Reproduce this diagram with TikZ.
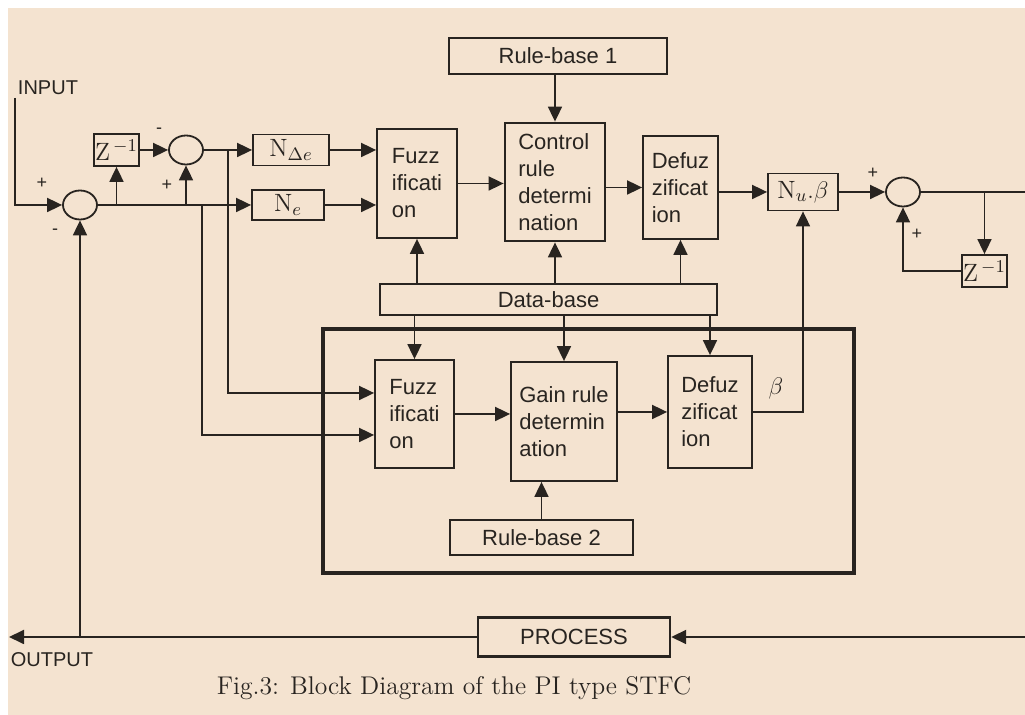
\documentclass[tikz,border=0pt]{standalone}
\usepackage{amsmath,amssymb}
\usepackage{fontspec}
\setsansfont{Liberation Sans}
\usepackage{xcolor}
\usepackage{tikz}
\usetikzlibrary{arrows.meta,shapes.geometric,calc}
\definecolor{paperbg}{RGB}{244,227,208}
\definecolor{inkdark}{RGB}{40,36,32}

\begin{document}
\begin{tikzpicture}[x=0.5pt,y=-0.5pt,>={Triangle[length=7.5pt,width=7pt]},
    line width=0.9pt,draw=inkdark,
    blk/.style={draw=inkdark,line width=0.9pt,inner sep=0pt,align=left,
      font=\sffamily\fontsize{11}{13.5}\selectfont,text=inkdark},
    gainblk/.style={draw=inkdark,line width=0.9pt,inner sep=0pt,
      font=\fontsize{12.5}{14}\selectfont,text=inkdark},
    sumjn/.style={ellipse,draw=inkdark,line width=0.9pt,inner sep=0pt,
      minimum width=17pt,minimum height=14.5pt},
    sgn/.style={font=\sffamily\small,text=inkdark,inner sep=0pt},
    lbl/.style={font=\sffamily\fontsize{10}{12}\selectfont,text=inkdark,inner sep=0pt}]
  % page: white strip on top and left, paper colour elsewhere
  \useasboundingbox (0,0) rectangle (1025,715);
  \fill[white] (0,0) rectangle (1025,715);
  \fill[paperbg] (8,8) rectangle (1025,715);
  % summing junctions
  \node[sumjn] (s1) at (80,205) {};
  \node[sumjn] (s2) at (186,150) {};
  \node[sumjn] (s3) at (903,192) {};
  % delay and normalising gains
  \node[gainblk,minimum width=22.5pt,minimum height=16pt] (zA) at (116.5,150) {$\mathrm{Z}^{\,-1}$};
  \node[gainblk,minimum width=22.5pt,minimum height=16pt] (zB) at (984.5,271) {$\mathrm{Z}^{\,-1}$};
  \node[gainblk,minimum width=38pt,minimum height=15.5pt] (nde) at (291,150) {$\mathrm{N}_{\Delta e}$};
  \node[gainblk,minimum width=36pt,minimum height=15pt] (ne) at (288,205) {$\mathrm{N}_{e}$};
  \node[gainblk,minimum width=35pt,minimum height=18.5pt] (nub) at (803,192) {$\mathrm{N}_{u}.\beta$};
  % main fuzzy controller
  \node[blk,minimum width=109pt,minimum height=18pt] (rb1) at (558,56) {Rule-base 1};
  \node[blk,minimum width=40pt,minimum height=54.5pt] (fuzzA) at (417,183.5) {Fuzz\\ificati\\on};
  \node[blk,line width=1.4pt,minimum width=50pt,minimum height=59pt] (ctrl) at (555,182) {Control\\rule\\determi\\nation};
  \node[blk,minimum width=37.5pt,minimum height=51.5pt] (defA) at (680.5,187.5) {Defuz\\zificat\\ion};
  \node[blk,minimum width=168.5pt,minimum height=15.5pt] (dbase) at (548.5,299.5) {Data-base};
  % gain tuning mechanism
  \draw[line width=2pt] (323,329) rectangle (854,573);
  \node[blk,minimum width=39.5pt,minimum height=54pt] (fuzzB) at (414.5,414) {Fuzz\\ificati\\on};
  \node[blk,minimum width=53pt,minimum height=59.5pt] (gain) at (564,421.5) {Gain rule\\determin\\ation};
  \node[blk,minimum width=42pt,minimum height=56pt] (defB) at (710,412) {Defuz\\zificat\\ion};
  \node[blk,minimum width=91.5pt,minimum height=17.5pt] (rb2) at (541.5,537.5) {Rule-base 2};
  \node[font=\fontsize{13}{15}\selectfont,text=inkdark,inner sep=0pt] (betaLbl) at (776,389) {$\beta$};
  % plant
  \node[blk,line width=1.2pt,align=center,minimum width=96pt,minimum height=19.5pt] (proc) at (574,637) {PROCESS};
  % labels and signs
  \node[lbl] (inLbl) at (48,88) {INPUT};
  \node[lbl] (outLbl) at (52,660) {OUTPUT};
  \node[sgn] (p1) at (42,183) {+};
  \node[sgn] (m1) at (55,232) {-};
  \node[sgn] (m2) at (159,131) {-};
  \node[sgn] (p2) at (167,185) {+};
  \node[sgn] (p3) at (873,173) {+};
  \node[sgn] (p4) at (917,234) {+};
  \node[font=\fontsize{12.8}{15}\selectfont,text=inkdark] (caption) at (454,688)
        {Fig.3: Block Diagram of the PI type STFC};
  % free ends at the page border
  \coordinate (inTop) at (15,98);
  \coordinate (rEdge) at (1025,192);
  \coordinate (rBot) at (1025,637);
  \coordinate (outEnd) at (9,637);
  \coordinate (jE) at (202,205);
  \coordinate (jDE) at (228,150);
  % error and change of error
  \draw[->] (inTop) |- (s1.west);
  \draw[->] (s1.east) -- (ne.west);
  \draw[->] (zA.south |- s1.east) -- (zA.south);
  \draw[->] (zA.east) -- (s2.west);
  \draw[->] (s2.south |- s1.east) -- (s2.south);
  \draw[->] (s2.east) -- (nde.west);
  \draw[->] (nde.east) -- (nde.east -| fuzzA.west);
  \draw[->] (ne.east) -- (ne.east -| fuzzA.west);
  \draw[->] (jDE) |- ($(fuzzB.west)+(0,-21)$);
  \draw[->] (jE) |- ($(fuzzB.west)+(0,21)$);
  % main controller chain
  \draw[->] (rb1.south -| ctrl.north) -- (ctrl.north);
  \draw[->] (fuzzA.east) -- (fuzzA.east -| ctrl.west);
  \draw[->] (defA.west -| ctrl.east) -- (defA.west);
  \draw[->] (defA.east |- nub.west) -- (nub.west);
  \draw[->] (nub.east) -- (s3.west);
  \foreach \b in {fuzzA,ctrl,defA}
    \draw[->] (dbase.north -| \b.south) -- (\b.south);
  \foreach \b in {fuzzB,gain,defB}
    \draw[->] (dbase.south -| \b.north) -- (\b.north);
  % tuning chain
  \draw[->] (fuzzB.east) -- (fuzzB.east -| gain.west);
  \draw[->] (defB.west -| gain.east) -- (defB.west);
  \draw[->] (rb2.north) -- (rb2.north |- gain.south);
  \draw[->] (defB.east) -| (nub.south);
  % incremental output
  \draw (s3.east) -- (rEdge);
  \draw[->] (zB.north |- s3.east) -- (zB.north);
  \draw[->] (zB.west) -| (s3.south);
  % plant and feedback
  \draw[->] (rBot) -- (proc.east);
  \draw[->] (proc.west) -- (outEnd);
  \draw[->] (s1.south |- proc.west) -- (s1.south);
\end{tikzpicture}
\end{document}
